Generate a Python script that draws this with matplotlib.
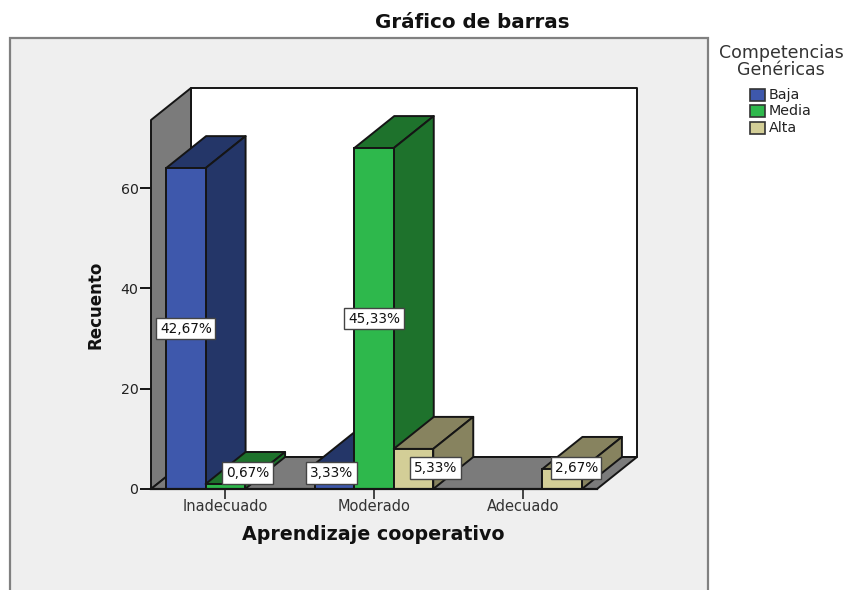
import matplotlib.pyplot as plt
from matplotlib.patches import Polygon, Rectangle

categories = ['Inadecuado', 'Moderado', 'Adecuado']
series = ['Baja', 'Media', 'Alta']
baja = [64, 5, 0]
media = [1, 68, 0]
alta = [0, 8, 4]
baja_pct = ['42,67%', '3,33%', '']
media_pct = ['0,67%', '45,33%', '']
alta_pct = ['', '5,33%', '2,67%']
yticks = [0, 20, 40, 60]

front = ['#3e58ac', '#2eb84c', '#d3ce97']
side = ['#243668', '#1e722c', '#87835f']
edge = '#151515'
grey = '#7b7b7b'

# label nudges in pixels, the boxes got moved around in the original
nudge = {(0, 1): (22, 13.5), (1, 0): (-3, 3.5), (1, 2): (22, 1), (2, 2): (14, 11)}

plt.rcParams['font.family'] = ['DejaVu Sans']

W, H = 844, 590
fig = plt.figure(figsize=(W / 100, H / 100), dpi=100, facecolor='white')
fig.add_artist(Rectangle((10 / W, -0.05), 698 / W, 1.05 - 38 / H, transform=fig.transFigure,
                         fc='#efefef', ec='#808080', lw=1.6, zorder=-1))

ax = fig.add_axes([151 / W, (H - 489) / H, 446 / W, 369 / H], facecolor='none')
ymax = 73.6
ax.set_xlim(-0.5, 2.5)
ax.set_ylim(0, ymax)

# depth of the fake 3d box
dx = 40 / (446 / 3)
dy = 32 / (369 / ymax)
width = 39.5 / (446 / 3)
x0, x1 = -0.5, 2.5


def poly(pts, fc, z):
    ax.add_patch(Polygon(pts, closed=True, fc=fc, ec=edge, lw=1.4, clip_on=False, zorder=z, joinstyle='round'))


poly([(x0 + dx, dy), (x1 + dx, dy), (x1 + dx, ymax + dy), (x0 + dx, ymax + dy)], 'white', 1)
poly([(x0, 0), (x0 + dx, dy), (x0 + dx, ymax + dy), (x0, ymax)], grey, 1.1)
poly([(x0, 0), (x1, 0), (x1 + dx, dy), (x0 + dx, dy)], grey, 1.2)

z = 2
all_vals = [baja, media, alta]
all_pct = [baja_pct, media_pct, alta_pct]
for c in range(len(categories)):
    for s in range(len(series)):
        v = all_vals[s][c]
        if v == 0:
            continue
        left = c + (s - 1.5) * width
        right = left + width
        poly([(left, v), (right, v), (right + dx, v + dy), (left + dx, v + dy)], side[s], z)
        poly([(right, 0), (right + dx, dy), (right + dx, v + dy), (right, v)], side[s], z)
        ax.bar(left, v, width, align='edge', color=front[s], edgecolor=edge, linewidth=1.4, zorder=z + 0.1,
               clip_on=False)
        z += 1

for c in range(len(categories)):
    for s in range(len(series)):
        txt = all_pct[s][c]
        if txt == '':
            continue
        v = all_vals[s][c]
        nx, ny = nudge.get((c, s), (0, 0))
        ax.annotate(txt, (c + (s - 1) * width, v / 2), xytext=(nx * 0.72, ny * 0.72), textcoords='offset points',
                    ha='center', va='center', fontsize=9.8, color='#111111', zorder=50,
                    bbox=dict(boxstyle='square,pad=0.27', fc='white', ec='#444444', lw=1.0))

for sp in ['top', 'right', 'bottom', 'left']:
    ax.spines[sp].set_visible(False)
ax.axhline(0, color=edge, lw=1.6, zorder=40, clip_on=False)
ax.set_xticks(range(3))
ax.set_xticklabels(categories, fontsize=10.5, color='#333333')
ax.set_yticks(yticks)
ax.tick_params(axis='y', labelsize=10.2, labelcolor='#222222', length=8, width=1.4, color=edge, pad=1)
ax.tick_params(axis='x', length=7, width=1.4, color='#444444', pad=0.5)

fig.text(472 / W, 1 - 22 / H, 'Gráfico de barras', ha='center', va='center', fontsize=14.3, fontweight='bold',
         color='#111111')
fig.text(373 / W, 1 - 535 / H, 'Aprendizaje cooperativo', ha='center', va='center', fontsize=13.7,
         fontweight='bold', color='#111111')
fig.text(96 / W, 1 - 305 / H, 'Recuento', ha='center', va='center', rotation=90, fontsize=12, fontweight='bold',
         color='#111111')

fig.text(781 / W, 1 - 53 / H, 'Competencias', ha='center', va='center', fontsize=12.5, color='#333333')
fig.text(781 / W, 1 - 70 / H, 'Genéricas', ha='center', va='center', fontsize=12.5, color='#333333')
for i, name in enumerate(series):
    y = 94.5 + i * 16.5
    fig.add_artist(Rectangle((750 / W, 1 - (y + 6) / H), 15 / W, 12 / H, transform=fig.transFigure,
                             fc=front[i], ec='#333333', lw=1.2))
    fig.text(769 / W, 1 - y / H, name, ha='left', va='center', fontsize=10.3, color='#222222')

plt.savefig('out.png', dpi=100)
